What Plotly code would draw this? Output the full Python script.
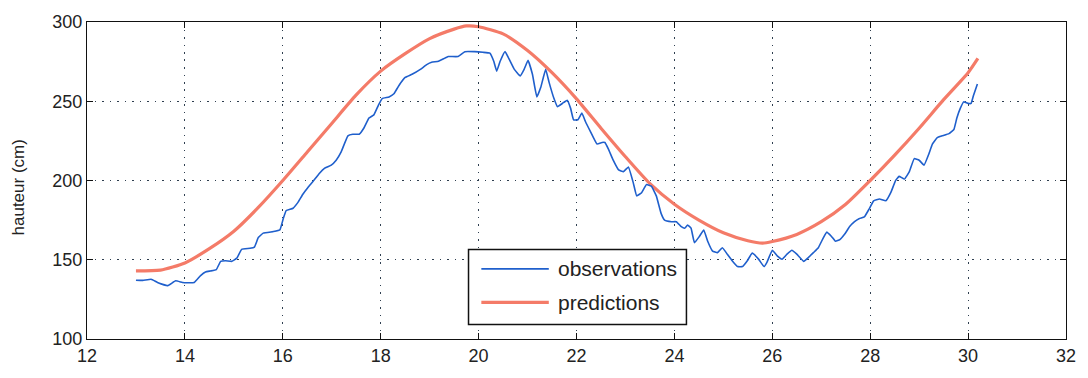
import plotly.graph_objects as go

# Observed water level (cm) against time (days)
obs_t = [13.00, 13.14, 13.31, 13.44, 13.65, 13.81, 13.95, 14.05, 14.19, 14.32,
         14.42, 14.52, 14.64, 14.73, 14.83, 14.96, 15.06, 15.16, 15.33, 15.42,
         15.50, 15.60, 15.81, 15.94, 16.01, 16.07, 16.21, 16.31, 16.41, 16.51,
         16.62, 16.75, 16.85, 16.99, 17.09, 17.19, 17.33, 17.43, 17.56, 17.66,
         17.76, 17.86, 17.95, 18.03, 18.17, 18.27, 18.37, 18.50, 18.64, 18.81,
         18.94, 19.04, 19.18, 19.31, 19.38, 19.58, 19.72, 19.92, 20.09, 20.23,
         20.31, 20.37, 20.44, 20.54, 20.63, 20.73, 20.85, 20.93, 21.01, 21.10,
         21.19, 21.27, 21.37, 21.44, 21.54, 21.61, 21.71, 21.81, 21.88, 21.94,
         22.03, 22.11, 22.18, 22.28, 22.42, 22.52, 22.58, 22.65, 22.75, 22.86,
         22.96, 23.06, 23.16, 23.23, 23.33, 23.43, 23.53, 23.63, 23.73, 23.80,
         23.94, 24.04, 24.14, 24.21, 24.27, 24.34, 24.41, 24.51, 24.60, 24.68,
         24.78, 24.88, 24.98, 25.08, 25.18, 25.29, 25.39, 25.49, 25.59, 25.72,
         25.83, 25.89, 26.00, 26.10, 26.20, 26.30, 26.40, 26.50, 26.64, 26.74,
         26.84, 26.94, 27.04, 27.11, 27.21, 27.29, 27.38, 27.48, 27.58, 27.68,
         27.78, 27.88, 27.98, 28.07, 28.19, 28.32, 28.42, 28.52, 28.59, 28.70,
         28.80, 28.90, 29.00, 29.10, 29.20, 29.27, 29.37, 29.47, 29.61, 29.71,
         29.77, 29.84, 29.91, 30.01, 30.06, 30.11, 30.19]
obs_h = [137.1, 137.0, 137.7, 135.7, 133.7, 136.7, 135.7, 135.5, 135.7, 140.0,
         142.3, 142.9, 143.7, 149.0, 149.4, 149.0, 151.0, 156.6, 157.2, 158.0,
         164.0, 166.8, 167.8, 168.8, 176.0, 181.1, 182.5, 186.2, 191.3, 195.4,
         199.5, 204.6, 207.7, 209.7, 212.8, 217.9, 228.2, 229.2, 229.2, 233.3,
         239.4, 241.4, 247.3, 251.7, 252.7, 254.7, 259.8, 265.0, 267.0, 270.1,
         273.1, 274.6, 275.2, 277.2, 278.2, 278.2, 281.3, 281.3, 280.9, 280.3,
         275.2, 269.0, 275.2, 281.3, 276.2, 270.1, 266.0, 270.1, 275.8, 267.0,
         252.7, 258.8, 270.1, 261.9, 251.7, 246.6, 248.6, 250.6, 245.5, 238.3,
         238.3, 242.5, 237.4, 231.2, 223.0, 224.0, 224.0, 220.0, 212.8, 206.7,
         205.6, 208.5, 198.5, 190.3, 192.3, 197.5, 196.4, 190.3, 179.1, 175.0,
         174.0, 174.0, 170.9, 169.9, 171.9, 169.9, 160.7, 164.7, 168.8, 161.7,
         155.5, 154.5, 157.6, 153.5, 149.4, 145.7, 145.7, 149.4, 154.2, 150.4,
         145.7, 148.4, 156.0, 152.5, 150.4, 153.5, 156.0, 153.5, 149.0, 151.5,
         154.5, 157.6, 163.7, 167.4, 164.7, 161.7, 162.7, 166.2, 170.9, 174.0,
         176.0, 177.0, 182.1, 187.2, 188.3, 187.2, 192.3, 200.1, 202.6, 200.9,
         205.6, 213.8, 212.8, 209.7, 216.9, 223.0, 227.1, 228.2, 229.6, 232.2,
         239.4, 245.5, 249.6, 248.6, 248.6, 253.7, 260.9]

# Predicted tide (cm)
pred_t = [13.0, 13.5, 14.0, 14.5, 15.0, 15.5, 16.0, 16.5, 17.0, 17.5,
          18.0, 18.5, 19.0, 19.5, 19.75, 20.0, 20.5, 21.0, 21.5, 22.0,
          22.5, 23.0, 23.5, 24.0, 24.5, 25.0, 25.5, 25.8, 26.0, 26.5,
          27.0, 27.5, 28.0, 28.5, 29.0, 29.5, 30.0, 30.2]
pred_h = [143.0, 143.5, 148.0, 157.0, 168.0, 183.0, 200.0, 218.0, 236.0, 254.0,
          269.0, 280.0, 289.5, 295.5, 297.5, 297.0, 292.5, 282.0, 268.0, 251.5,
          233.0, 215.0, 198.0, 185.0, 175.0, 167.0, 162.0, 160.5, 161.5, 166.0,
          174.0, 185.0, 200.0, 216.0, 233.0, 251.0, 268.0, 277.0]

x_ticks = [12, 14, 16, 18, 20, 22, 24, 26, 28, 30, 32]
y_ticks = [100, 150, 200, 250, 300]

series_names = ["observations", "predictions"]
y_title = "hauteur (cm)"
BLUE = "#1f5fcc"
RED = "#f47b68"
FONT = "Liberation Sans, Arial, sans-serif"

fig = go.Figure()
fig.add_trace(go.Scatter(x=pred_t, y=pred_h, mode="lines", name=series_names[1],
                         line=dict(color=RED, width=3.2, shape="spline", smoothing=0.6),
                         showlegend=False))
fig.add_trace(go.Scatter(x=obs_t, y=obs_h, mode="lines", name=series_names[0],
                         line=dict(color=BLUE, width=1.6, shape="spline", smoothing=0.3),
                         showlegend=False))

axis_common = dict(
    showline=True, linecolor="#111", linewidth=1, mirror="allticks",
    ticks="inside", ticklen=6, tickcolor="#111", tickwidth=1,
    showgrid=True, gridcolor="#2f3f50", gridwidth=1, griddash="1.5px,6px",
    zeroline=False, tickfont=dict(family=FONT, size=18, color="#222"),
)

fig.update_xaxes(range=[12, 32], tickvals=x_ticks, **axis_common)
fig.update_yaxes(range=[100, 300], tickvals=y_ticks, **axis_common)

# Y-axis title placed as a rotated label left of the tick labels
fig.add_annotation(xref="paper", yref="paper", x=0, y=0.478, xshift=-69, text=y_title,
                   textangle=-90, showarrow=False, xanchor="center", yanchor="middle",
                   font=dict(family=FONT, size=17, color="#222"))

# Boxed legend drawn in paper space
lx0, lx1, ly0, ly1 = 0.3897, 0.6123, 0.046, 0.2822
fig.add_shape(type="rect", xref="paper", yref="paper", x0=lx0, x1=lx1, y0=ly0, y1=ly1,
              line=dict(color="#111", width=1.5), fillcolor="white", layer="above")
rows = [(0.2209, BLUE, 1.8, series_names[0]), (0.1156, RED, 3.2, series_names[1])]
for yy, col, w, label in rows:
    fig.add_shape(type="line", xref="paper", yref="paper", x0=0.4028, x1=0.4717,
                  y0=yy, y1=yy, line=dict(color=col, width=w), layer="above")
    fig.add_annotation(xref="paper", yref="paper", x=0.4787, y=yy, text=label,
                       showarrow=False, xanchor="left", yanchor="middle",
                       font=dict(family=FONT, size=21, color="#222"))

fig.update_layout(
    width=1088, height=378,
    margin=dict(l=87, r=13, t=21, b=31),
    paper_bgcolor="white", plot_bgcolor="white",
)

fig.write_html("out.html")
